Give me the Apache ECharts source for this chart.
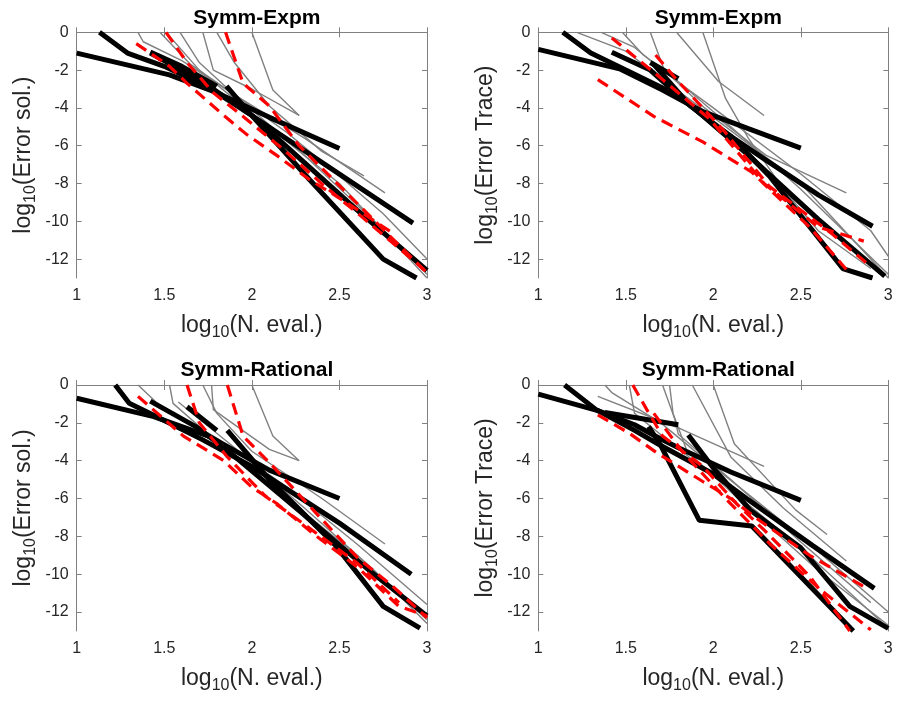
<!DOCTYPE html>
<html>
<head>
<meta charset="utf-8">
<script src="https://cdn.jsdelivr.net/npm/echarts@6/dist/echarts.min.js"></script>
<style>
html,body{margin:0;padding:0;background:#fff;}
#chart{width:901px;height:701px;}
</style>
</head>
<body>
<div id="chart"></div>
<script>
// ---------- Data (log10 N. eval. , log10 error) ----------
const panelTitles = ['Symm-Expm', 'Symm-Expm', 'Symm-Rational', 'Symm-Rational'];
const yNames = ['Error sol.', 'Error Trace', 'Error sol.', 'Error Trace'];
const xTickValues = [1, 1.5, 2, 2.5, 3];
const yTickValues = [-12, -10, -8, -6, -4, -2, 0];

// Panel 1: Symm-Expm, Error sol.
const expmSolGray = [
  [[2.0,0],[2.12,-3.05],[2.27,-4.4]],
  [[1.72,0],[1.78,-2.0],[2.0,-3.0],[2.27,-4.4]],
  [[1.80,0],[1.9,-1.6],[2.1,-3.9],[2.4,-6.3],[2.64,-7.6]],
  [[1.35,0],[1.38,-0.5],[1.6,-1.5],[1.9,-3.3],[2.3,-5.6],[2.76,-8.5]],
  [[1.475,0],[1.65,-1.7],[1.9,-3.3],[2.2,-5.3],[2.5,-7.6],[2.75,-9.6],[3.0,-12.0]],
  [[1.51,0],[1.7,-2.0],[2.0,-4.3],[2.5,-8.0],[3.0,-13.0]],
  [[1.59,0],[1.7,-1.6],[1.9,-3.3],[2.3,-6.5],[2.7,-10.0],[3.0,-12.8]]
];
const expmSolBlack = [
  [[1.0,-1.1],[1.53,-2.25],[1.8,-3.2],[2.1,-4.5],[2.5,-6.15]],
  [[1.13,0],[1.29,-1.1],[1.5,-1.8],[1.75,-2.9],[2.0,-4.4],[2.5,-7.5],[2.92,-10.1]],
  [[1.42,-1.05],[1.6,-1.8],[1.8,-2.85]],
  [[1.855,-2.85],[1.99,-4.3],[2.33,-7.8],[2.75,-12.0],[2.94,-13.0]],
  [[1.42,-1.1],[1.7,-2.5],[2.0,-4.4],[2.3,-6.9],[2.6,-9.4],[2.8,-11.0],[3.0,-12.6]]
];
const expmSolRed = [
  [[1.34,-0.6],[1.53,-1.8],[1.63,-2.7],[1.84,-4.4],[1.97,-5.4],[2.14,-6.5],[2.33,-7.8],[2.54,-9.0],[2.8,-10.6]],
  [[1.51,0],[1.63,-1.6],[1.78,-3.2],[1.95,-4.45],[2.18,-6.2],[2.41,-8.1],[2.62,-9.7],[2.85,-11.5],[3.0,-12.7]],
  [[1.85,0],[1.95,-2.7],[2.1,-3.9],[2.27,-6.0],[2.52,-8.3],[2.79,-10.8],[2.98,-12.55]]
];

// Panel 2: Symm-Expm, Error Trace
const expmTrGray = [
  [[1.94,0],[2.07,-3.5],[2.2,-5.6],[2.4,-8.3],[2.6,-10.5],[2.9,-12.5]],
  [[1.79,0],[2.03,-2.6],[2.29,-4.4]],
  [[1.64,0],[1.72,-2.0],[1.95,-4.0],[2.3,-6.5],[2.76,-8.5]],
  [[1.36,0],[1.55,-0.8],[1.75,-2.3],[2.0,-4.0],[2.5,-7.5],[2.9,-10.5],[3.0,-11.85]],
  [[1.22,0],[1.5,-1.0],[1.7,-2.4],[2.0,-4.5],[2.5,-8.0],[3.0,-13.0]],
  [[1.48,0],[1.6,-1.2],[1.8,-2.6],[2.1,-5.0],[2.5,-8.3],[3.0,-12.8]]
];
const expmTrBlack = [
  [[1.0,-0.9],[1.47,-1.95],[1.71,-3.05],[1.94,-4.2],[2.2,-5.1],[2.5,-6.13]],
  [[1.14,0],[1.3,-1.1],[1.5,-2.0],[1.79,-3.3],[2.02,-5.0],[2.29,-6.7],[2.6,-8.6],[2.91,-10.26]],
  [[1.64,-1.6],[1.8,-2.45]],
  [[1.42,-1.06],[1.64,-2.0],[1.87,-3.9],[2.1,-5.5],[2.32,-7.6],[2.74,-12.5],[2.91,-13.0]],
  [[1.66,-1.7],[1.85,-3.7],[2.2,-6.5],[2.6,-9.9],[2.98,-12.9]]
];
const expmTrRed = [
  [[1.34,-2.5],[1.66,-4.45],[1.94,-5.8],[2.22,-7.4],[2.4,-9.0],[2.55,-10.3],[2.76,-12.55]],
  [[1.42,-0.3],[1.71,-2.5],[1.98,-4.6],[2.29,-8.0],[2.6,-10.3],[2.86,-11.05]],
  [[1.67,-1.2],[1.79,-2.5],[2.06,-5.2],[2.32,-8.15],[2.67,-10.6],[2.9,-12.4]]
];

// Panel 3: Symm-Rational, Error sol.
const ratSolGray = [
  [[2.0,0],[2.12,-2.7],[2.27,-4.0]],
  [[1.77,0],[1.78,-1.3],[2.1,-3.4],[2.27,-4.0]],
  [[1.72,0],[1.8,-1.5],[2.0,-3.5],[2.4,-6.0],[2.76,-8.4]],
  [[1.35,0],[1.46,-0.97],[1.8,-2.8],[2.2,-5.4],[2.6,-8.4],[3.0,-11.6]],
  [[1.53,0],[1.55,-0.97],[1.8,-3.0],[2.2,-6.0],[2.6,-9.0],[3.0,-12.4]],
  [[1.58,-0.9],[1.9,-3.3],[2.3,-6.5],[2.7,-9.8],[3.0,-12.6]]
];
const ratSolBlack = [
  [[1.0,-0.7],[1.44,-1.67],[1.76,-2.73],[2.1,-4.5],[2.5,-6.0]],
  [[1.22,0],[1.3,-0.97],[1.44,-1.6],[1.72,-2.9],[2.0,-4.3],[2.5,-7.3],[2.91,-10.0]],
  [[1.63,-1.15],[1.8,-2.4]],
  [[1.86,-2.4],[2.1,-5.0],[2.48,-8.5],[2.75,-11.7],[2.96,-12.85]],
  [[1.42,-0.85],[1.68,-2.2],[1.84,-3.3],[2.29,-6.8],[2.67,-9.8],[3.0,-12.2]]
];
const ratSolRed = [
  [[1.35,-0.6],[1.61,-2.7],[1.84,-4.0],[2.0,-5.4],[2.14,-6.25],[2.37,-8.0],[2.6,-9.6],[2.84,-11.7],[3.0,-12.2]],
  [[1.63,0],[1.7,-2.0],[1.86,-3.8],[2.08,-5.9],[2.29,-7.3],[2.6,-9.4],[2.84,-11.5]],
  [[1.86,0],[1.95,-2.7],[2.1,-4.1],[2.35,-6.6],[2.6,-9.1],[2.8,-10.6],[3.0,-12.3]]
];

// Panel 4: Symm-Rational, Error Trace
const ratTrGray = [
  [[1.34,-0.6],[1.81,-2.3],[2.29,-4.3]],
  [[2.0,0],[2.12,-3.1],[2.47,-6.6],[2.65,-7.9]],
  [[1.88,0],[2.1,-3.8],[2.4,-6.5],[2.76,-9.3]],
  [[1.38,0],[1.42,-0.4],[1.7,-2.0],[2.0,-4.3],[2.5,-8.0],[3.0,-12.0]],
  [[1.52,0],[1.55,-1.5],[1.75,-3.0],[2.0,-4.8],[2.5,-8.6],[3.0,-12.85]],
  [[1.71,0],[1.78,-1.8],[1.8,-2.6],[2.1,-5.0],[2.5,-8.3],[2.9,-11.5]],
  [[1.75,0],[1.77,-1.5],[1.85,-3.5],[2.2,-6.5],[2.6,-9.8],[3.0,-12.7]]
];
const ratTrBlack = [
  [[1.0,-0.48],[1.34,-1.35],[1.55,-2.1],[1.7,-2.85],[1.81,-3.35],[2.1,-4.6],[2.5,-6.1]],
  [[1.15,0],[1.33,-1.3],[1.55,-2.4],[1.7,-3.2],[2.0,-4.7],[2.19,-6.0],[2.57,-8.5],[2.92,-10.75]],
  [[1.38,-1.45],[1.8,-2.1]],
  [[1.63,-2.2],[1.7,-3.2],[1.92,-7.15],[2.22,-7.45],[2.8,-13.0]],
  [[1.857,-2.64],[2.01,-4.5],[2.21,-6.6],[2.5,-8.6],[2.78,-11.7],[3.0,-12.86]]
];
const ratTrRed = [
  [[1.34,-1.58],[1.52,-2.55],[1.68,-3.6],[1.94,-5.1],[2.1,-6.0],[2.27,-7.2],[2.55,-9.0],[2.86,-10.65]],
  [[1.54,0],[1.62,-1.3],[1.71,-2.7],[1.94,-4.3],[2.13,-6.25],[2.29,-7.66],[2.55,-10.1],[2.78,-13.0]],
  [[1.66,-1.5],[1.83,-3.6],[2.06,-5.9],[2.32,-8.36],[2.61,-10.8],[2.9,-12.94]]
];

const panelGray = [expmSolGray, expmTrGray, ratSolGray, ratTrGray];
const panelBlack = [expmSolBlack, expmTrBlack, ratSolBlack, ratTrBlack];
const panelRed = [expmSolRed, expmTrRed, ratSolRed, ratTrRed];

// ---------- Layout / styles ----------
const FONT = 'Liberation Sans, Arial, Helvetica, sans-serif';
const TXT = '#262626';
const AX = '#808080';
const grids = [
  {left: 76.7, top: 32.3, width: 350.3, height: 245.7},
  {left: 538.3, top: 32.3, width: 350.0, height: 245.7},
  {left: 76.7, top: 385, width: 350.3, height: 246},
  {left: 538.3, top: 385, width: 350.0, height: 246}
];

const nameRich = {
  a: {fontSize: 23, color: TXT, fontFamily: FONT, verticalAlign: 'middle', lineHeight: 30},
  s: {fontSize: 16, color: TXT, fontFamily: FONT, verticalAlign: 'bottom', lineHeight: 30}
};

const xAxes = [], yAxes = [], titles = [], series = [];
for (let i = 0; i < 4; i++) {
  const g = grids[i];
  titles.push({
    text: panelTitles[i],
    left: g.left + g.width / 2,
    top: g.top - 30,
    textAlign: 'center',
    textStyle: {fontFamily: FONT, fontSize: 21, fontWeight: 'bold', color: '#000'}
  });
  const xBase = {
    gridIndex: i, type: 'value', min: 1, max: 3, interval: 0.5,
    splitLine: {show: false},
    axisLine: {show: true, lineStyle: {color: AX, width: 1}},
    axisTick: {show: true, inside: true, length: 5, lineStyle: {color: AX}}
  };
  xAxes.push(Object.assign({}, xBase, {
    position: 'bottom',
    axisLabel: {color: TXT, fontSize: 16, fontFamily: FONT, margin: 10},
    name: '{a|log}{s|10}{a|(N. eval.)}',
    nameLocation: 'middle', nameGap: 33,
    nameTextStyle: {rich: nameRich}
  }));
  xAxes.push(Object.assign({}, xBase, {position: 'top', axisLabel: {show: false}}));
  const yBase = {
    gridIndex: i, type: 'value', min: -13, max: 0, interval: 1,
    splitLine: {show: false},
    axisLine: {show: true, lineStyle: {color: AX, width: 1}},
    axisTick: {show: true, inside: true, length: 5, lineStyle: {color: AX}, customValues: yTickValues}
  };
  yAxes.push(Object.assign({}, yBase, {
    position: 'left',
    axisLabel: {color: TXT, fontSize: 16, fontFamily: FONT, margin: 8, customValues: yTickValues},
    name: '{a|log}{s|10}{a|(' + yNames[i] + ')}',
    nameLocation: 'middle', nameGap: 38, nameRotate: 90,
    nameTextStyle: {rich: nameRich}
  }));
  yAxes.push(Object.assign({}, yBase, {position: 'right', axisLabel: {show: false, customValues: yTickValues}}));

  const xi = i * 2, yi = i * 2;
  panelGray[i].forEach(d => series.push({
    type: 'line', xAxisIndex: xi, yAxisIndex: yi, data: d, symbol: 'none', clip: true,
    lineStyle: {color: '#808080', width: 1.4}, z: 2, silent: true
  }));
  panelBlack[i].forEach(d => series.push({
    type: 'line', xAxisIndex: xi, yAxisIndex: yi, data: d, symbol: 'none', clip: true,
    lineStyle: {color: '#000', width: 5}, z: 3, silent: true
  }));
  panelRed[i].forEach(d => series.push({
    type: 'line', xAxisIndex: xi, yAxisIndex: yi, data: d, symbol: 'none', clip: true,
    lineStyle: {color: '#ff0000', width: 3.2, type: [12, 7]}, z: 4, silent: true
  }));
}

const chart = echarts.init(document.getElementById('chart'), null, {renderer: 'canvas'});
chart.setOption({
  animation: false,
  backgroundColor: '#fff',
  title: titles,
  grid: grids,
  xAxis: xAxes,
  yAxis: yAxes,
  series: series
});
</script>
</body>
</html>
